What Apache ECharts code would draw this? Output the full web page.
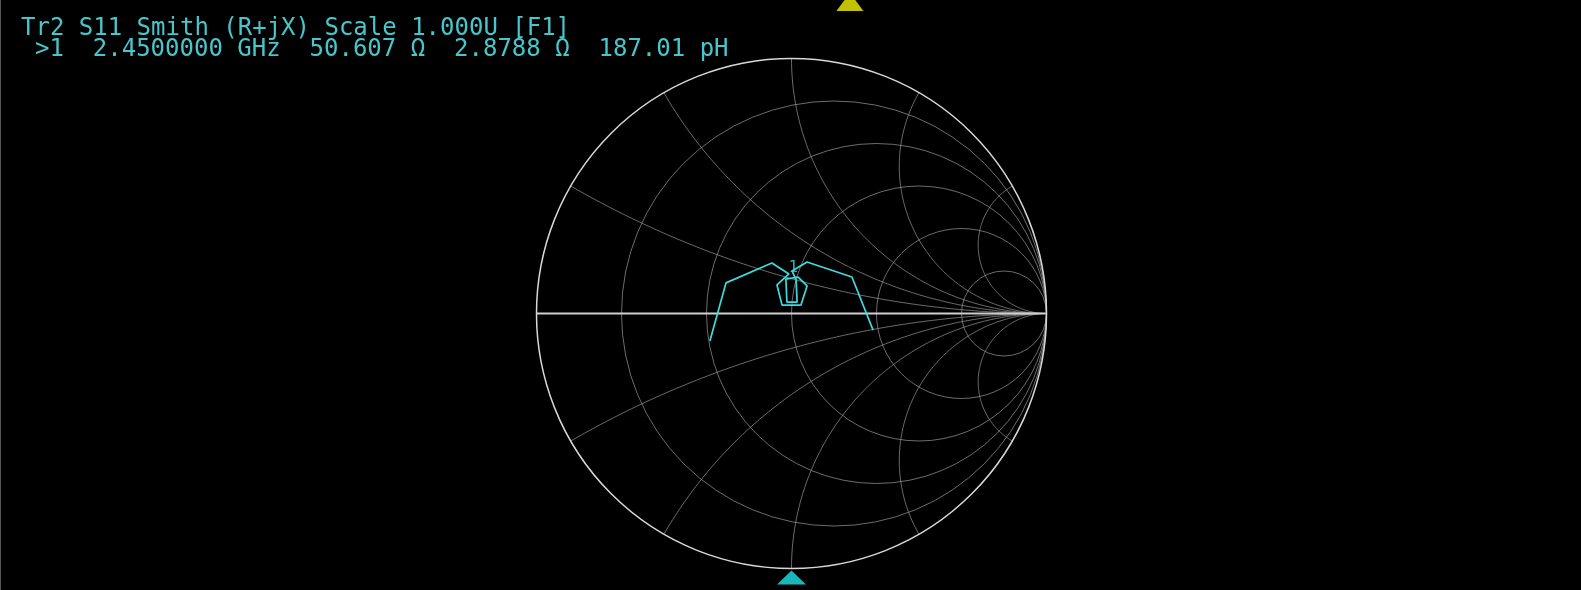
<!DOCTYPE html>
<html>
<head>
<meta charset="utf-8">
<script src="https://cdn.jsdelivr.net/npm/echarts@6/dist/echarts.min.js"></script>
<style>
  html, body { margin: 0; padding: 0; background: #000; }
  #chart { width: 1581px; height: 590px; }
</style>
</head>
<body>
<div id="chart"></div>
<script>
// ---- Data ----
const titleText = 'Tr2 S11 Smith (R+jX) Scale 1.000U [F1]';
const markerText = '>1  2.4500000 GHz  50.607 \u03A9  2.8788 \u03A9  187.01 pH';
const markerName = '1';

// Smith grid: constant-resistance circles and constant-reactance arcs (normalised)
const resistanceCircles = [0.2, 0.5, 1, 2, 5];
const reactanceArcs = [0.268, 0.577, 1, 1.732, 3.732];

// S11 trace, reflection coefficient (real, imaginary)
const traceRe = [-0.320, -0.257, -0.077, -0.010, -0.057, -0.037, 0.037, 0.061, 0.026, -0.022, -0.018, 0.022, 0.018, 0.002, 0.061, 0.237, 0.320];
const traceIm = [-0.108, 0.120, 0.198, 0.155, 0.112, 0.033, 0.033, 0.108, 0.143, 0.135, 0.045, 0.045, 0.132, 0.167, 0.202, 0.143, -0.065];

// Marker 1 impedance (ohm) and reference impedance
const markerZ = [50.607, 2.8788];
const z0 = 50;

// Indicator triangles (reflection-plane position)
const stimulusIndicator = [0.229, 1.222];   // yellow, top
const referenceIndicator = [0, -1.035];     // cyan, bottom

// ---- Build ----
const tracePoints = traceRe.map((v, i) => [v, traceIm[i]]);
function zToGamma(z) {
  const a = z[0] / z0, b = z[1] / z0;
  const d = (a + 1) * (a + 1) + b * b;
  return [((a - 1) * (a + 1) + b * b) / d, (b * (a + 1) - b * (a - 1)) / d];
}
const markerGamma = zToGamma(markerZ);

const gridColor = 'rgba(150,150,150,0.72)';
const traceColor = '#3fdade';
const textColor = '#47c6cc';
const monoFont = "'DejaVu Sans Mono', 'Liberation Mono', monospace";

const chart = echarts.init(document.getElementById('chart'), null, { renderer: 'canvas' });

const option = {
  backgroundColor: '#000',
  animation: false,
  title: [
    { text: titleText, left: 21, top: 16, padding: 0,
      textStyle: { color: textColor, fontFamily: monoFont, fontSize: 24, fontWeight: 'normal', lineHeight: 26 } },
    { text: markerText, left: 35, top: 37, padding: 0,
      textStyle: { color: textColor, fontFamily: monoFont, fontSize: 24, fontWeight: 'normal', lineHeight: 26 } }
  ],
  grid: { left: 536.5, top: 58.5, width: 510, height: 510 },
  xAxis: { type: 'value', min: -1, max: 1, show: false },
  yAxis: { type: 'value', min: -1, max: 1, show: false },
  series: [
    {
      // constant resistance circles
      type: 'custom', clip: false, z: 1, silent: true,
      data: resistanceCircles.map(r => [r, 0]),
      renderItem: function (params, api) {
        const r = api.value(0);
        const c = api.coord([r / (1 + r), 0]);
        const rad = api.size([1 / (1 + r), 0])[0];
        return { type: 'circle', shape: { cx: c[0], cy: c[1], r: rad },
                 style: { fill: 'none', stroke: gridColor, lineWidth: 1 } };
      }
    },
    {
      // constant reactance arcs (+x and -x)
      type: 'custom', clip: false, z: 1, silent: true,
      data: reactanceArcs.flatMap(x => [[x, 0], [-x, 0]]),
      renderItem: function (params, api) {
        const xv = api.value(0);
        const ax = Math.abs(xv), s = Math.sign(xv);
        const rad = 1 / ax;
        let phi = Math.atan2((ax * ax - 1) / ax, -2);
        if (phi < 0) phi += 2 * Math.PI;
        const end = 1.5 * Math.PI;
        const pts = [];
        const N = 160;
        for (let i = 0; i <= N; i++) {
          const t = phi + (end - phi) * i / N;
          const px = 1 + rad * Math.cos(t);
          const py = rad + rad * Math.sin(t);
          pts.push(api.coord([px, s * py]));
        }
        return { type: 'polyline', shape: { points: pts },
                 style: { fill: 'none', stroke: gridColor, lineWidth: 1 } };
      }
    },
    {
      // outer circle and real axis
      type: 'custom', clip: false, z: 2, silent: true,
      data: [[0, 0]],
      renderItem: function (params, api) {
        const c = api.coord([0, 0]);
        const rad = api.size([1, 0])[0];
        const l = api.coord([-1, 0]), r = api.coord([1, 0]);
        return { type: 'group', children: [
          { type: 'circle', shape: { cx: c[0], cy: c[1], r: rad },
            style: { fill: 'none', stroke: '#d8d8d8', lineWidth: 1.5 } },
          { type: 'line', shape: { x1: l[0], y1: l[1], x2: r[0], y2: r[1] },
            style: { stroke: '#cfcfcf', lineWidth: 2 } }
        ] };
      }
    },
    {
      name: 'S11', type: 'line', z: 5, data: tracePoints,
      showSymbol: false, symbol: 'none', smooth: false,
      lineStyle: { color: traceColor, width: 1.7 }
    },
    {
      name: 'marker', type: 'scatter', z: 6, data: [markerGamma],
      symbol: 'circle', symbolSize: 1,
      itemStyle: { color: 'rgba(0,0,0,0)' },
      label: { show: true, formatter: markerName, position: 'inside', offset: [0, -38],
               color: traceColor, fontFamily: monoFont, fontSize: 16 }
    },
    {
      type: 'scatter', z: 6, clip: false, silent: true,
      data: [stimulusIndicator], symbol: 'triangle', symbolSize: [27, 18],
      itemStyle: { color: '#f2f200' }
    },
    {
      type: 'scatter', z: 6, clip: false, silent: true,
      data: [referenceIndicator], symbol: 'triangle', symbolSize: [29, 14],
      itemStyle: { color: '#1fe3ee' }
    }
  ],
  graphic: [
    { type: 'line', shape: { x1: 0.5, y1: 0, x2: 0.5, y2: 590 }, style: { stroke: '#555', lineWidth: 1 } }
  ]
};
chart.setOption(option);
</script>
</body>
</html>
